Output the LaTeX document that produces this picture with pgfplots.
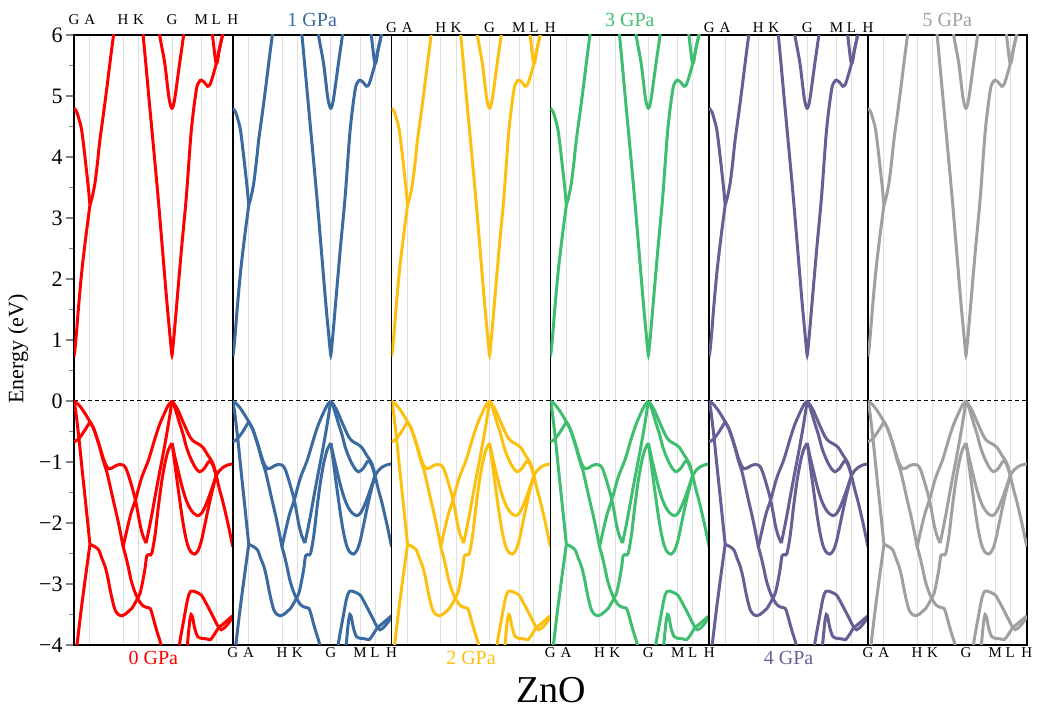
\documentclass[border=0pt]{standalone}
\usepackage{fontspec}
\setmainfont{Liberation Serif}
\usepackage{pgfplots}
\pgfplotsset{compat=1.18}
\definecolor{c0}{RGB}{255,0,0}
\definecolor{c1}{RGB}{58,106,160}
\definecolor{c2}{RGB}{252,192,16}
\definecolor{c3}{RGB}{62,190,110}
\definecolor{c4}{RGB}{100,96,150}
\definecolor{c5}{RGB}{160,160,160}
\pgfplotsset{
  bl/.style={line width=1.5pt, smooth, tension=0.5},
  panel/.style={scale only axis, width=79.4pt, height=305pt, anchor=south west,
    xmin=0, xmax=159.3, ymin=-4, ymax=6,
    xtick={0,15.8,49.3,64.7,98.3,127.7,142.7,159.3},
    xticklabels={G,A,H,K,G,M,L,H},
    xticklabel style={font=\fontsize{7.5}{8}\selectfont, inner sep=1pt},
    xtick style={draw=none},
    xmajorgrids, grid style={line width=0.4pt, black!12},
    axis line style={line width=0.8pt},
    ytick=\empty},
}
\newcommand{\bandset}[1]{%
\addplot[black, line width=0.5pt, dash pattern=on 2pt off 1.5pt] coordinates {(0,0) (159.3,0)};
% valence bands
\addplot[#1,bl] coordinates {(0,0)(4,-0.05)(8,-0.13)(12,-0.23)(16,-0.34)};
\addplot[#1,bl] coordinates {(0,-0.67)(4,-0.63)(8,-0.55)(12,-0.45)(16,-0.34)};
\addplot[#1,bl] coordinates {(0,0)(2,-0.2)(5,-0.62)(8,-1.1)(12,-1.72)(16,-2.35)};
\addplot[#1,bl] coordinates {(0,-4.4)(3,-4.0)(7,-3.45)(11,-2.95)(16,-2.35)};
\addplot[#1,bl] coordinates {(16,-0.34)(20,-0.46)(25,-0.7)(29,-0.92)(32,-1.05)(35,-1.11)(38,-1.10)(42,-1.06)(46,-1.04)(49.3,-1.05)(52,-1.1)(54.7,-1.22)(58,-1.4)(61.3,-1.6)(64,-1.82)(66.3,-2.03)(69,-2.2)(72.3,-2.33)};
\addplot[#1,bl] coordinates {(72.3,-2.33)(75,-2.12)(78,-1.87)(81.3,-1.57)(84.7,-1.27)(88,-0.99)(91.3,-0.7)(94.7,-0.38)(98.3,0)};
\addplot[#1,bl] coordinates {(16,-0.34)(20,-0.47)(25,-0.72)(29,-0.96)(32.7,-1.15)(36,-1.38)(39.3,-1.62)(43,-1.88)(46,-2.11)(49.3,-2.39)};
\addplot[#1,bl] coordinates {(49.3,-2.39)(53,-2.12)(57,-1.85)(62,-1.6)(68,-1.25)(74.7,-0.97)(81.3,-0.61)(86,-0.38)(91.3,-0.18)(95,-0.06)(98.3,0)};
\addplot[#1,bl] coordinates {(49.3,-2.39)(52,-2.55)(54.7,-2.74)(57,-2.92)(59.7,-3.07)(62,-3.17)(64,-3.24)(68,-3.34)(72,-3.38)(76.3,-3.40)(78.5,-3.5)(81.3,-3.67)(84,-3.82)(87.3,-4.0)(92,-4.4)};
\addplot[#1,bl] coordinates {(16,-2.35)(20,-2.38)(24.7,-2.44)(28,-2.58)(31.3,-2.72)(34,-2.9)(36.3,-3.10)(39,-3.3)(41.3,-3.43)(44.5,-3.5)(48,-3.52)(51,-3.5)(54.7,-3.45)(58,-3.40)(63,-3.26)(66.3,-3.15)(69,-2.95)(71.3,-2.74)(73,-2.54)(75.5,-2.52)(78,-2.5)(81.3,-2.2)(84.5,-1.75)(88,-1.32)(91.5,-1.0)(94.7,-0.8)(98.3,-0.69)};
\addplot[#1,bl] coordinates {(98.3,0)(101,-0.06)(104.3,-0.15)(109.3,-0.34)(116,-0.58)(120,-0.66)(124.3,-0.70)(129.3,-0.76)(134.3,-0.89)(139.3,-1.02)(142.7,-1.22)};
\addplot[#1,bl] coordinates {(98.3,0)(101,-0.1)(106,-0.37)(109.5,-0.55)(112.7,-0.75)(116,-0.9)(119.3,-1.02)(123,-1.12)(126,-1.16)(128.5,-1.14)(131,-1.10)(134,-1.02)(136.5,-0.98)(139.5,-1.06)(142.7,-1.22)};
\addplot[#1,bl] coordinates {(142.7,-1.22)(146,-1.14)(149.3,-1.09)(154,-1.05)(159.3,-1.03)};
\addplot[#1,bl] coordinates {(98.3,-0.69)(101,-0.9)(104.3,-1.13)(108,-1.38)(112,-1.6)(116,-1.75)(120,-1.84)(124.5,-1.88)(128,-1.84)(131,-1.75)(134.3,-1.62)(138,-1.45)(142.7,-1.22)};
\addplot[#1,bl] coordinates {(98.3,-0.69)(100.5,-0.95)(102.7,-1.22)(105,-1.5)(108,-1.85)(111,-2.15)(114,-2.36)(117,-2.47)(121,-2.51)(124.5,-2.45)(127.7,-2.3)(131,-2.05)(134.3,-1.79)(138,-1.52)(142.7,-1.22)};
\addplot[#1,bl] coordinates {(142.7,-1.22)(146,-1.45)(149.3,-1.65)(154.3,-2.0)(159.3,-2.39)};
\addplot[#1,bl] coordinates {(104,-4.3)(106,-3.97)(110,-3.6)(114,-3.25)(117,-3.12)(122,-3.13)(127.7,-3.18)(131,-3.27)(134.3,-3.37)(140,-3.55)(144,-3.68)(147.7,-3.75)(152,-3.7)(156,-3.62)(159.3,-3.54)};
\addplot[#1,bl] coordinates {(112,-4.3)(114,-3.95)(116,-3.62)(117.5,-3.5)(119,-3.55)(121,-3.72)(124,-3.86)(128,-3.89)(133,-3.9)(137,-3.91)(141,-3.82)(145,-3.72)(150,-3.65)(155,-3.58)(159.3,-3.52)};
% conduction bands
\addplot[#1,bl] coordinates {(0,0.73)(1,0.85)(2.5,1.12)(4.3,1.49)(6.5,1.9)(8.7,2.26)(12.7,2.8)(16,3.21)};
\addplot[#1,bl] coordinates {(0,4.8)(2.7,4.74)(5,4.62)(7.7,4.44)(11,4.0)(14.3,3.51)(16,3.21)};
\addplot[#1,bl] coordinates {(16,3.21)(18.5,3.36)(21,3.57)(23.5,3.9)(26,4.28)(29.5,4.7)(32.7,5.1)(36.5,5.6)(40.3,6.08)(42,6.3)};
\addplot[#1,bl] coordinates {(66,6.4)(69.3,6.0)(76,4.82)(84.3,3.35)(92.7,1.71)(96,1.12)(97.5,0.86)(98.3,0.75)(99.1,0.86)(100.5,1.1)(103.7,1.71)(108,2.52)(112.7,3.35)(117.7,4.44)(122.7,5.10)(125.5,5.23)(127.7,5.26)(131,5.22)(134,5.16)(136.5,5.19)(139.5,5.34)(142.7,5.53)(146,5.78)(150,6.08)(152,6.3)};
\addplot[#1,bl] coordinates {(84,6.4)(86,6.0)(91,5.54)(95,5.0)(97,4.84)(98.3,4.80)(99.6,4.84)(101.5,5.0)(106,5.54)(110,6.0)(112,6.3)};
\addplot[#1,bl] coordinates {(136.5,6.3)(138.7,6.03)(142.7,5.53)(146,5.78)(150,6.08)(152,6.3)};
}
\begin{document}
\begin{tikzpicture}
\useasboundingbox (-37pt,-35.5pt) rectangle (482pt,322.5pt);
\begin{axis}[panel, at={(0pt,0pt)}, xticklabel pos=right,
  ytick={-4,-3,-2,-1,0,1,2,3,4,5,6},
  yticklabels={−4,−3,−2,−1,0,1,2,3,4,5,6},
  minor ytick={-3.5,-2.5,-1.5,-0.5,0.5,1.5,2.5,3.5,4.5,5.5},
  ytick pos=left, tick align=outside,
  major tick length=4pt, minor tick length=2.5pt,
  yticklabel style={font=\fontsize{11}{12}\selectfont, inner sep=1.5pt},
  ytick style={line width=0.6pt}]
\bandset{c0}
\end{axis}
\begin{axis}[panel, at={(79.4pt,0pt)}]
\bandset{c1}
\end{axis}
\begin{axis}[panel, at={(158.8pt,0pt)}, xticklabel pos=right]
\bandset{c2}
\end{axis}
\begin{axis}[panel, at={(238.2pt,0pt)}]
\bandset{c3}
\end{axis}
\begin{axis}[panel, at={(317.6pt,0pt)}, xticklabel pos=right]
\bandset{c4}
\end{axis}
\begin{axis}[panel, at={(397pt,0pt)}]
\bandset{c5}
\end{axis}
\node[font=\fontsize{10}{12}\selectfont, text=c0] at (39.7pt,-6.5pt) {0 GPa};
\node[font=\fontsize{10}{12}\selectfont, text=c1] at (119.1pt,312.5pt) {1 GPa};
\node[font=\fontsize{10}{12}\selectfont, text=c2] at (198.5pt,-6.5pt) {2 GPa};
\node[font=\fontsize{10}{12}\selectfont, text=c3] at (277.9pt,312.5pt) {3 GPa};
\node[font=\fontsize{10}{12}\selectfont, text=c4] at (357.3pt,-6.5pt) {4 GPa};
\node[font=\fontsize{10}{12}\selectfont, text=c5] at (436.7pt,312.5pt) {5 GPa};
\node[font=\fontsize{11}{12}\selectfont, rotate=90] at (-28pt,148pt) {Energy (eV)};
\node[font=\fontsize{19}{22}\selectfont] at (238.5pt,-22.5pt) {ZnO};
\end{tikzpicture}
\end{document}
